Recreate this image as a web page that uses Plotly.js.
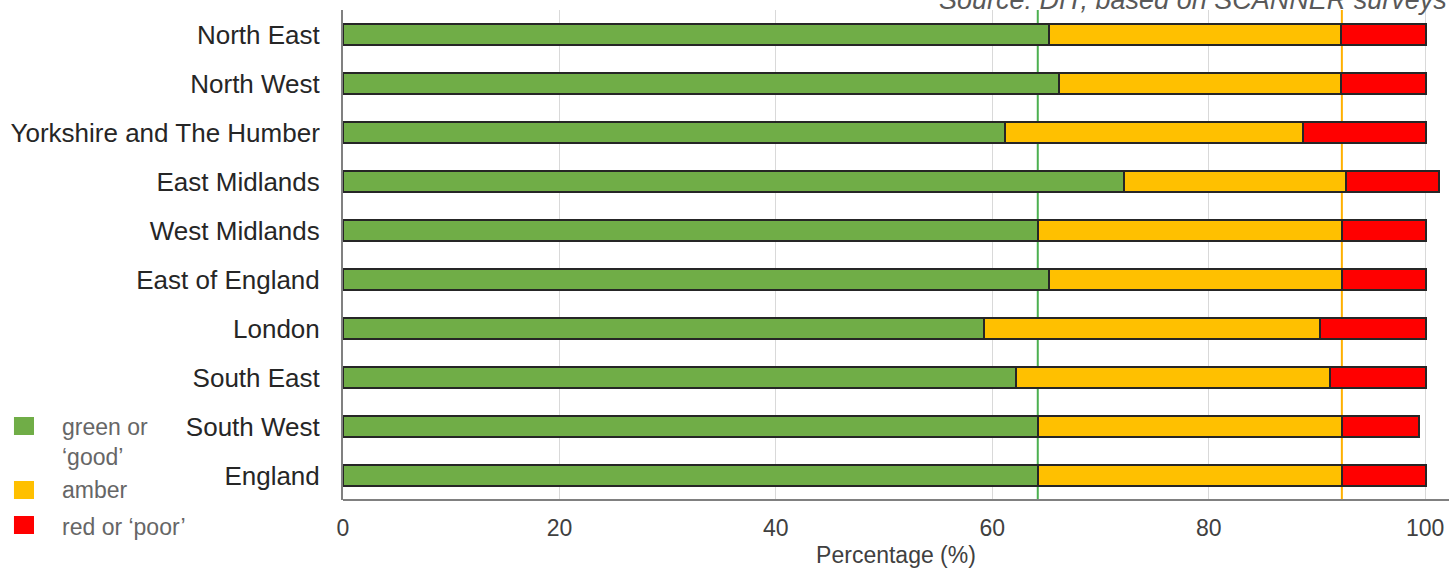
<!DOCTYPE html>
<html><head><meta charset="utf-8">
<script src="https://cdn.plot.ly/plotly-3.0.1.min.js"></script>
<style>body{margin:0}</style></head>
<body><div id="chart" style="width:1449px;height:574px"></div>
<script>
var regions = ['North East', 'North West', 'Yorkshire and The Humber', 'East Midlands', 'West Midlands',
  'East of England', 'London', 'South East', 'South West', 'England'];
var green = [65.2, 66.2, 61.2, 72.2, 64.2, 65.2, 59.2, 62.2, 64.2, 64.2];
var amber = [27.0, 26.0, 27.5, 20.5, 28.1, 27.1, 31.1, 29.0, 28.1, 28.1];
var red = [7.9, 7.9, 11.4, 8.6, 7.8, 7.8, 9.8, 8.9, 7.1, 7.8];
var legendNames = ['green or<br>‘good’', 'amber', 'red or ‘poor’'];
var colors = ['#70AD47', '#FFC000', '#FF0000'];
var greenTarget = 64.2, amberTarget = 92.3;

function trace(vals, i) {
  return {type: 'bar', orientation: 'h', y: regions, x: vals, name: legendNames[i],
    marker: {color: colors[i], line: {color: '#262626', width: 2}}};
}
var data = [trace(green, 0), trace(amber, 1), trace(red, 2)];

// hand-made legend (squares without outline, like the original)
var legY = [[0.1327, 0.1694, 0.118], [0.0020, 0.0388, 0.0204], [-0.0694, -0.0327, -0.0551]];
var shapes = [
  {type: 'line', xref: 'x', yref: 'paper', x0: greenTarget, x1: greenTarget, y0: 0, y1: 1,
    line: {color: '#4CB050', width: 2}, layer: 'below'},
  {type: 'line', xref: 'x', yref: 'paper', x0: amberTarget, x1: amberTarget, y0: 0, y1: 1,
    line: {color: '#FFB000', width: 2}, layer: 'below'},
  {type: 'line', xref: 'paper', yref: 'paper', x0: 0, x1: 1, y0: 0, y1: 0,
    line: {color: '#808080', width: 2}}
];
var annotations = [{xref: 'paper', yref: 'paper', x: 1, y: 1.02, xanchor: 'right', yanchor: 'middle',
  showarrow: false, text: '<i>Source: DfT, based on SCANNER surveys</i>',
  font: {size: 27, color: '#595959'}}];
for (var i = 0; i < 3; i++) {
  shapes.push({type: 'rect', xref: 'paper', yref: 'paper', x0: -0.2975, x1: -0.2794,
    y0: legY[i][0], y1: legY[i][1], fillcolor: colors[i], line: {width: 0}});
  annotations.push({xref: 'paper', yref: 'paper', x: -0.2559, y: legY[i][2], xanchor: 'left',
    yanchor: 'middle', align: 'left', showarrow: false, text: legendNames[i],
    font: {size: 23, color: '#666'}});
}

var layout = {
  barmode: 'stack', bargap: 0.58,
  margin: {l: 343, r: 0, t: 10, b: 74},
  paper_bgcolor: 'white', plot_bgcolor: 'white',
  font: {family: 'Liberation Sans, Arial, sans-serif', size: 25, color: '#262626'},
  xaxis: {range: [0, 102.2], dtick: 20, showgrid: true, gridcolor: '#d9d9d9', gridwidth: 1,
    zeroline: false, showline: false, ticklabelstandoff: 12, tickfont: {size: 23, color: '#404040'},
    title: {text: 'Percentage (%)', standoff: 6, font: {size: 23, color: '#404040'}}},
  yaxis: {autorange: 'reversed', showline: true, linecolor: '#808080', linewidth: 2,
    ticks: '', ticklabelstandoff: 16, tickfont: {size: 26, color: '#262626'}},
  showlegend: false,
  shapes: shapes,
  annotations: annotations
};
Plotly.newPlot('chart', data, layout, {displayModeBar: false});
</script></body></html>
